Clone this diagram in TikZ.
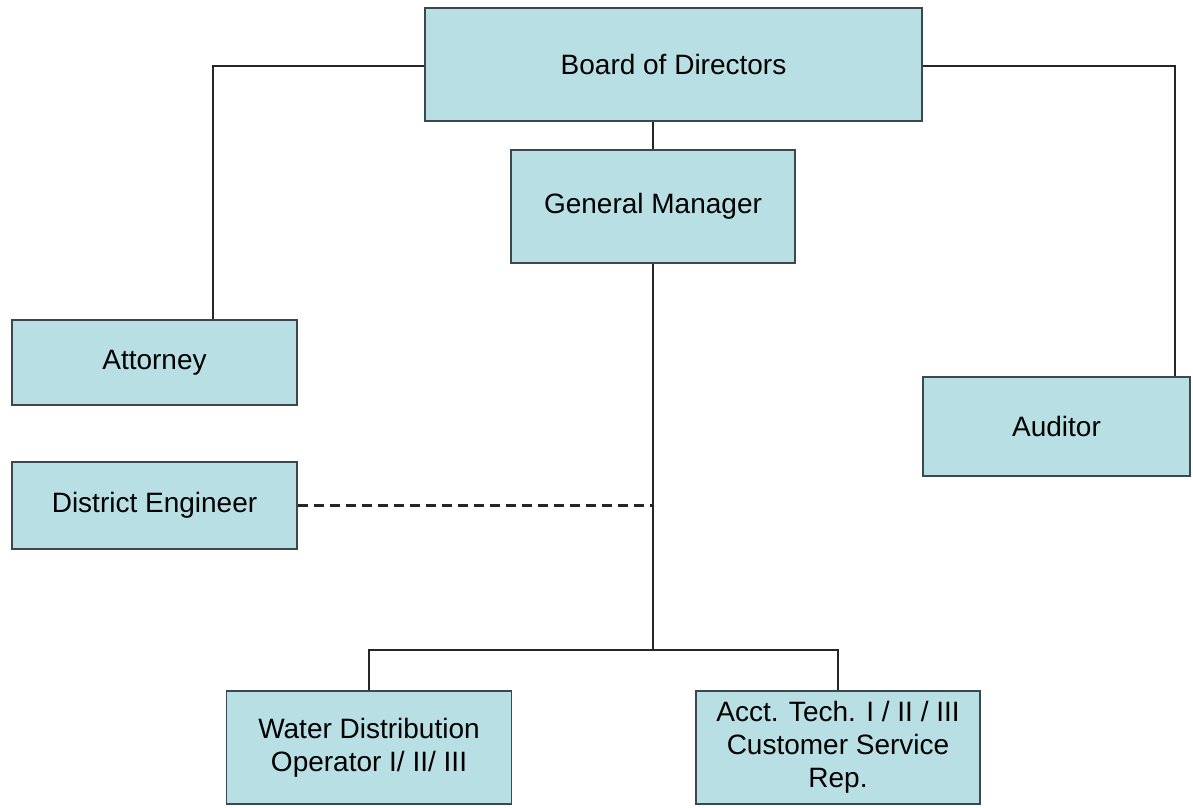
\documentclass[tikz,border=0pt]{standalone}
\usepackage{fontspec}
\setmainfont{Liberation Sans}
\usepackage{tikz}
\usetikzlibrary{positioning}

\definecolor{boxfill}{RGB}{184,224,228}
\definecolor{boxline}{RGB}{60,72,78}

\begin{document}
\begin{tikzpicture}[x=1pt, y=-1pt,
    orgbox/.style={draw=boxline, line width=1.5pt, fill=boxfill, align=center,
        inner sep=0pt, font=\fontsize{28}{33}\selectfont},
    link/.style={line width=1.6pt, black!85}]
\useasboundingbox (0,0) rectangle (1193,807);

\node (board) [orgbox, minimum width=497pt, minimum height=113pt] at (673.5,64.5) {Board of Directors};
\node (gm) [orgbox, minimum width=284pt, minimum height=113pt] at (653,206.5) {General Manager};
\node (attorney) [orgbox, minimum width=285pt, minimum height=85pt] at (154.5,362.5) {Attorney};
\node (engineer) [orgbox, minimum width=285pt, minimum height=87pt] at (154.5,505.5) {District Engineer};
\node (auditor) [orgbox, minimum width=267pt, minimum height=99pt] at (1056.5,426.5) {Auditor};
\node (water) [orgbox, minimum width=285pt, minimum height=113pt] at (369,747.5) {Water Distribution\\Operator I/ II/ III};
\node (acct) [orgbox, minimum width=284pt, minimum height=113pt] at (838,747.5) {Acct. Tech. I / II / III\\Customer Service\\Rep.};

\coordinate (split) at (653,650);

% board links
\draw[link] (board.west |- 0,66) -| (attorney.north -| 213,0);
\draw[link] (board.east |- 0,66) -| (auditor.north -| 1175,0);
\draw[link] (gm.north) -- (board.south -| gm.north);

% staff below the general manager
\draw[link] (gm.south) -- (split);
\draw[link] (water.north) |- (split) -| (acct.north);
\draw[link, line width=2.4pt, dash pattern=on 10pt off 6pt] (engineer.east) -- (engineer.east -| split);
\end{tikzpicture}
\end{document}
